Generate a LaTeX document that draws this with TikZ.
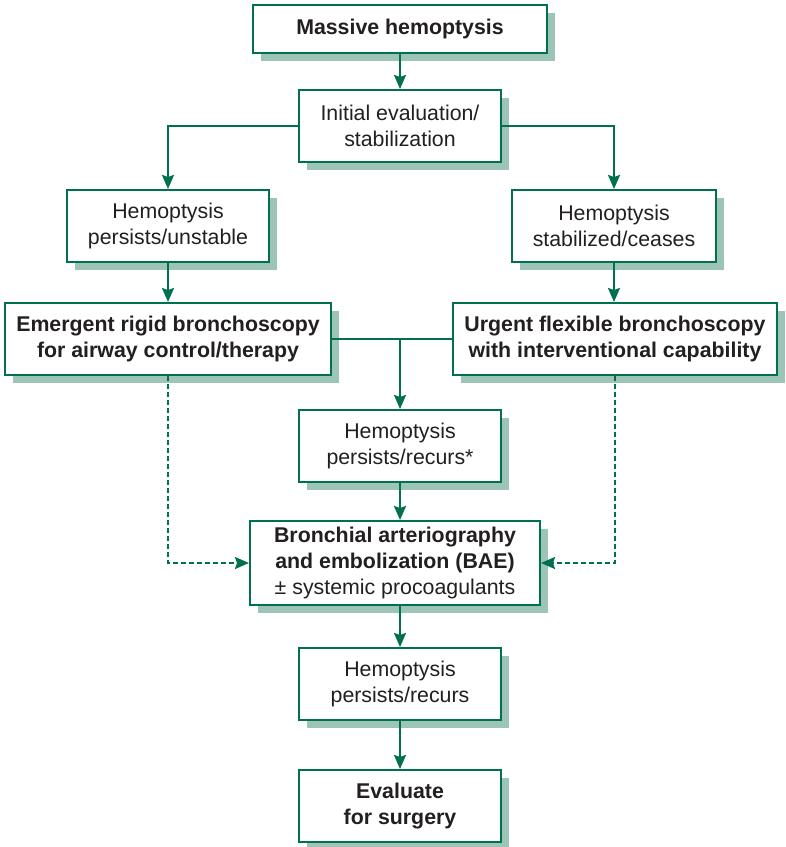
\documentclass[tikz,border=0pt]{standalone}
\usepackage{fontspec}
\setmainfont{Liberation Sans}
\usetikzlibrary{arrows.meta, shadows}
\definecolor{inkgreen}{HTML}{00704F}
\definecolor{inkshade}{HTML}{9DC5B6}
\definecolor{inktext}{HTML}{231F20}
\newcommand{\flowbox}[5][54pt]{%
  \node[draw=inkgreen, line width=1.5pt, fill=white, inner sep=0pt,
        drop shadow={shadow xshift=6pt, shadow yshift=-6pt, fill=inkshade, opacity=1},
        minimum width=#4, minimum height=#1, align=center,
        text=inktext] (#2) at (#3) {#5};}

\begin{document}
\begin{tikzpicture}[x=0.75pt, y=-0.75pt, font=\fontsize{16pt}{19.5pt}\selectfont]
  \useasboundingbox (0,0) rectangle (786,847);
  \flowbox[36pt]{massive}{400,29}{220.5pt}{\textbf{Massive hemoptysis}}
  \flowbox{init}{400,126}{151.5pt}{Initial evaluation/\\stabilization}
  \flowbox{unstable}{168,226}{151.5pt}{Hemoptysis\\persists/unstable}
  \flowbox{stable}{614,226}{153pt}{Hemoptysis\\stabilized/ceases}
  \flowbox{rigid}{168,339}{245pt}{\textbf{Emergent rigid bronchoscopy}\\\textbf{for airway control/therapy}}
  \flowbox{flexible}{615,339}{243pt}{\textbf{Urgent flexible bronchoscopy}\\\textbf{with interventional capability}}
  \flowbox{recurA}{400,446}{151.5pt}{Hemoptysis\\persists/recurs*}
  \flowbox[63pt]{bae}{395,563}{217.5pt}{\textbf{Bronchial arteriography}\\\textbf{and embolization (BAE)}\\± systemic procoagulants}
  \flowbox{recurB}{400,684}{151.5pt}{Hemoptysis\\persists/recurs}
  \flowbox{surgery}{400,806}{151.5pt}{\textbf{Evaluate}\\\textbf{for surgery}}
  % connectors
  \begin{scope}[inkgreen, line width=1.5pt, >={Stealth[length=10.5pt, width=9pt, inset=1.5pt]}]
    \draw[->] (massive) -- (init);
    \draw[->] (init.west) -| (unstable.north);
    \draw[->] (init.east) -| (stable.north);
    \draw[->] (unstable) -- (unstable |- rigid.north);
    \draw[->] (stable) -- (stable |- flexible.north);
    \draw (rigid.east) -- (flexible.west);
    \draw[->] (recurA |- rigid.east) -- (recurA.north);
    \draw[->] (recurA) -- (recurA |- bae.north);
    \draw[->, dash pattern=on 3.75pt off 2.25pt] (rigid.south) |- (bae.west);
    \draw[->, dash pattern=on 3.75pt off 2.25pt] (flexible.south) |- (bae.east);
    \draw[->] (bae.south -| recurB) -- (recurB.north);
    \draw[->] (recurB) -- (surgery);
  \end{scope}
\end{tikzpicture}
\end{document}
